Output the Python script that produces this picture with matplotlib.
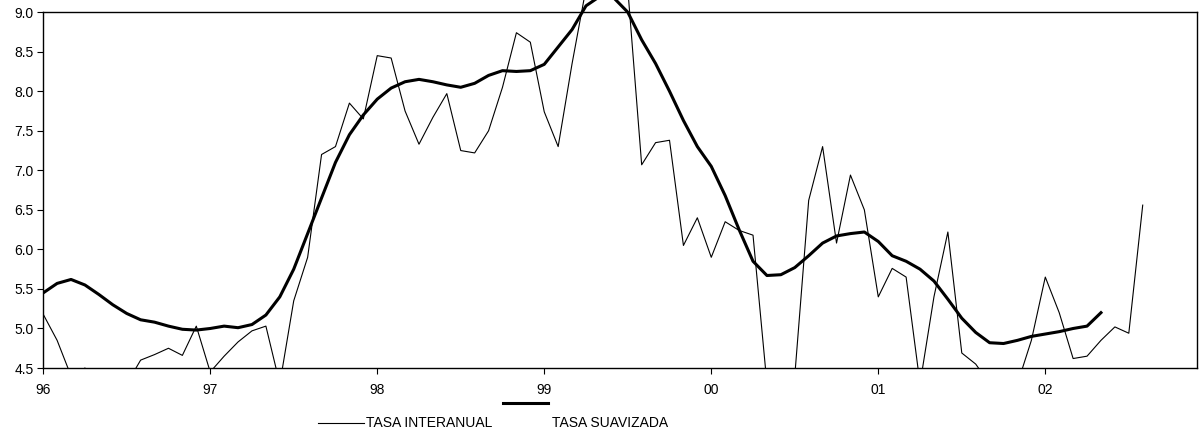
import numpy as np
import matplotlib
matplotlib.use("Agg")
import matplotlib.pyplot as plt
from matplotlib.lines import Line2D
from matplotlib.patches import Rectangle

plt.rcParams['font.family'] = ['Liberation Sans', 'DejaVu Sans']

# monthly values, jan-96 onwards
tasa_interanual = [5.18, 4.85, 4.40, 4.50, 4.30, 4.20, 4.30, 4.60, 4.67, 4.75, 4.66, 5.03,
                   4.45, 4.65, 4.83, 4.97, 5.03, 4.30, 5.35, 5.90, 7.20, 7.30, 7.85, 7.65,
                   8.45, 8.42, 7.75, 7.33, 7.67, 7.97, 7.25, 7.22, 7.50, 8.05, 8.74, 8.62,
                   7.74, 7.30, 8.35, 9.30, 9.50, 9.60, 9.30, 7.07, 7.35, 7.38, 6.05, 6.40,
                   5.90, 6.35, 6.24, 6.18, 4.30, 4.00, 4.40, 6.62, 7.30, 6.08, 6.94, 6.50,
                   5.40, 5.76, 5.65, 4.30, 5.40, 6.22, 4.69, 4.55, 4.30, 4.20, 4.30, 4.85,
                   5.65, 5.20, 4.62, 4.65, 4.85, 5.02, 4.94, 6.56]
tasa_suavizada = [5.45, 5.57, 5.62, 5.55, 5.43, 5.30, 5.19, 5.11, 5.08, 5.03, 4.99, 4.98,
                  5.00, 5.03, 5.01, 5.05, 5.17, 5.40, 5.75, 6.20, 6.65, 7.10, 7.45, 7.70,
                  7.90, 8.04, 8.12, 8.15, 8.12, 8.08, 8.05, 8.10, 8.20, 8.26, 8.25, 8.26,
                  8.34, 8.56, 8.78, 9.08, 9.20, 9.18, 9.00, 8.65, 8.35, 8.00, 7.63, 7.30,
                  7.05, 6.68, 6.25, 5.85, 5.67, 5.68, 5.77, 5.92, 6.08, 6.17, 6.20, 6.22,
                  6.10, 5.92, 5.85, 5.75, 5.60, 5.37, 5.13, 4.95, 4.82, 4.81, 4.85, 4.90,
                  4.93, 4.96, 5.00, 5.03, 5.20]
year_labels = ['96', '97', '98', '99', '00', '01', '02']

fig = plt.figure(figsize=(12, 4.34), dpi=100)
ax = fig.add_axes([0.036, 0.152, 0.9615, 0.82])

# lines are cut at the bottom of the plot but may run above the top border
clip = Rectangle((0, 0), 1, 1.5, transform=ax.transAxes, visible=False)
ax.add_patch(clip)
l1, = ax.plot(np.arange(len(tasa_interanual)), tasa_interanual, color='black', lw=0.8)
l2, = ax.plot(np.arange(len(tasa_suavizada)), tasa_suavizada, color='black', lw=2.2)
for ln in (l1, l2):
    ln.set_clip_path(clip)

ax.set_xlim(0, 82.9)
ax.set_ylim(4.5, 9.0)
ax.set_xticks(np.arange(len(year_labels)) * 12)
ax.set_xticklabels(year_labels)
ax.set_yticks(np.arange(4.5, 9.01, 0.5))
ax.set_yticklabels([f"{v:.1f}" for v in np.arange(4.5, 9.01, 0.5)])
ax.tick_params(axis='both', labelsize=10, direction='out', length=4, width=0.8)
ax.tick_params(axis='x', pad=7)
ax.tick_params(axis='y', pad=3)
for s in ax.spines.values():
    s.set_linewidth(1.0)
    s.set_color('black')

# legend as drawn by the original (offset keys)
fig.add_artist(Line2D([318 / 1200, 364 / 1200], [1 - 423 / 434] * 2, color='black', lw=0.8))
fig.text(366 / 1200, 1 - 423 / 434, 'TASA INTERANUAL', fontsize=10, va='center', ha='left')
fig.add_artist(Line2D([503 / 1200, 548 / 1200], [1 - 403 / 434] * 2, color='black', lw=2.2))
fig.text(552 / 1200, 1 - 423 / 434, 'TASA SUAVIZADA', fontsize=10, va='center', ha='left')

fig.savefig('out.png', dpi=100)
